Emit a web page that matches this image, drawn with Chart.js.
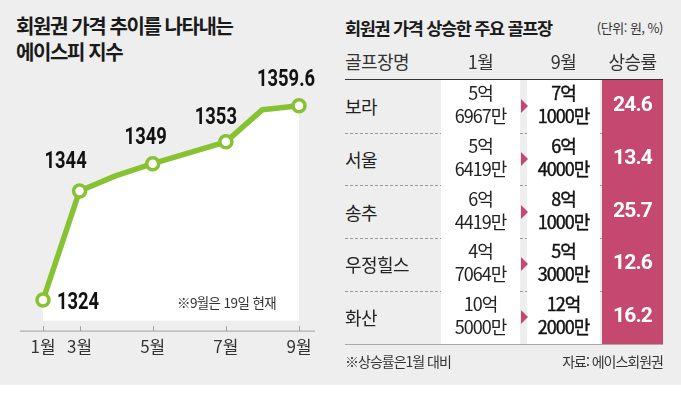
<!DOCTYPE html>
<html lang="ko">
<head>
<meta charset="utf-8">
<script src="https://cdn.jsdelivr.net/npm/chart.js@4.4.1/dist/chart.umd.min.js"></script>
<style>
  html, body { margin: 0; padding: 0; background: #fff; }
  body { width: 681px; height: 414px; position: relative; overflow: hidden;
         font-family: 'Noto Sans CJK KR', sans-serif; color: #222; }
  .panel { position: absolute; left: 0; top: 0; width: 681px; height: 385px; background: #eeeeee; }
  .abs { position: absolute; white-space: nowrap; }
  .title { font-weight: 700; color: #1a1a1a; }
  #chartBox { position: absolute; left: 0; top: 0; width: 340px; height: 385px; }
</style>
</head>
<body>
<div class="panel"></div>

<div class="abs title" style="left:16px; top:13px; font-size:20px; line-height:25.5px; letter-spacing:-1.4px;">회원권 가격 추이를 나타내는<br>에이스피 지수</div>
<div id="chartBox"><canvas id="indexChart" width="340" height="385"></canvas></div>
<div class="abs" style="left:177px; top:294px; font-size:13.5px; line-height:16px; letter-spacing:-0.6px; color:#333;">※9월은 19일 현재</div>

<div class="abs title" style="left:345px; top:18px; font-size:17.5px; line-height:20px; letter-spacing:-1.3px;">회원권 가격 상승한 주요 골프장</div>
<div class="abs" style="right:18px; top:20px; font-size:13px; line-height:16px; letter-spacing:-0.5px; color:#333;">(단위: 원, %)</div>
<div id="table"></div>
<div class="abs" style="left:345px; top:352px; font-size:14px; line-height:18px; letter-spacing:-1px; color:#333;">※상승률은1월 대비</div>
<div class="abs" style="right:18px; top:352px; font-size:14px; line-height:18px; letter-spacing:-1px; color:#333;">자료: 에이스회원권</div>

<script>
// 지수 데이터 (6월은 꺾임 없는 구간)
const months = ['1월', '3월', '4월', '5월', '6월', '7월', '8월', '9월'];
const monthNums = [1, 3, 4, 5, 6, 7, 8, 9];
const tickMonths = [1, 3, 5, 7, 9];
const indexValues = [1324, 1344, 1346.8, 1349, null, 1353, 1358.9, 1359.6];

// 골프장 표 데이터 (가격 단위: 만원)
const headers = ['골프장명', '1월', '9월', '상승률'];
const clubs = ['보라', '서울', '송추', '우정힐스', '화산'];
const priceJan = [56967, 56419, 64419, 47064, 105000];
const priceSep = [71000, 64000, 81000, 53000, 122000];
const riseRate = [24.6, 13.4, 25.7, 12.6, 16.2];

const GREEN = '#86c232';
const PINK = '#c4486f';
const FONT = "'Noto Sans CJK KR', sans-serif";

const isMarked = i => tickMonths.includes(monthNums[i]);

// axis line + upward tick marks
const axisDecor = {
    id: 'axisDecor',
    beforeDatasetsDraw(chart) {
        const { ctx, chartArea, scales } = chart;
        const y = chartArea.bottom + 0.5;
        ctx.save();
        ctx.strokeStyle = '#a0a0a0';
        ctx.lineWidth = 1;
        ctx.beginPath();
        ctx.moveTo(chartArea.left - 23, y);
        ctx.lineTo(chartArea.right + 16, y);
        months.forEach((m, i) => {
            if (!isMarked(i)) return;
            const x = Math.round(scales.x.getPixelForValue(i)) + 0.5;
            ctx.moveTo(x, y);
            ctx.lineTo(x, y - 5);
        });
        ctx.stroke();
        ctx.restore();
    }
};

// value labels next to the markers
const valueLabels = {
    id: 'valueLabels',
    afterDatasetsDraw(chart) {
        const offsets = { 0: [35, 2], 1: [-14, -30], 3: [-7, -26], 5: [-10, -25], 7: [-13, -27] };
        const { ctx } = chart;
        const meta = chart.getDatasetMeta(0);
        ctx.save();
        ctx.fillStyle = '#111';
        ctx.font = "bold 23px Roboto, 'Noto Sans CJK KR', sans-serif";
        ctx.textAlign = 'center';
        ctx.textBaseline = 'middle';
        meta.data.forEach((pt, i) => {
            if (!isMarked(i) || indexValues[i] === null) return;
            const [dx, dy] = offsets[i];
            ctx.save();
            ctx.translate(pt.x + dx, pt.y + dy);
            ctx.scale(0.8, 1);
            ctx.fillText(String(indexValues[i]), 0, 1);
            ctx.restore();
        });
        ctx.restore();
    }
};

new Chart(document.getElementById('indexChart').getContext('2d'), {
    type: 'line',
    data: {
        labels: months,
        datasets: [{
            data: indexValues,
            spanGaps: true,
            borderColor: GREEN,
            borderWidth: 5.5,
            borderJoinStyle: 'round',
            tension: 0,
            fill: { value: 1320.2 },
            backgroundColor: '#ffffff',
            pointRadius: ctx => isMarked(ctx.dataIndex) ? 6 : 0,
            pointBackgroundColor: '#ffffff',
            pointBorderColor: GREEN,
            pointBorderWidth: 3.5,
            clip: false
        }]
    },
    options: {
        responsive: false,
        animation: false,
        layout: { padding: { left: 43, right: 41, top: 90, bottom: 22 } },
        plugins: { legend: { display: false }, tooltip: { enabled: false } },
        scales: {
            x: {
                grid: { display: false, drawTicks: false },
                border: { display: false },
                ticks: {
                    autoSkip: false,
                    maxRotation: 0,
                    padding: 6,
                    color: '#333',
                    font: { family: FONT, size: 17 },
                    callback: (v, i) => isMarked(i) ? months[i] : ''
                }
            },
            y: { display: false, min: 1318.4, max: 1362.5 }
        }
    },
    plugins: [axisDecor, valueLabels]
});

// ---- table ----
const table = document.getElementById('table');
const fmtWon = v => Math.floor(v / 10000) + '억<br>' + (v % 10000) + '만';
const cols = [
    { x: 345, w: 96 },   // 골프장명
    { x: 441, w: 79 },   // 1월
    { x: 527, w: 73 },   // 9월
    { x: 602, w: 61 }    // 상승률
];
const top0 = 80, rowH = 52.7, bottom = top0 + rowH * clubs.length;

function add(html, style) {
    const d = document.createElement('div');
    d.innerHTML = html;
    d.setAttribute('style', style);
    table.appendChild(d);
    return d;
}

// dashed row separators (under the columns)
for (let r = 1; r < clubs.length; r++) {
    add('', `position:absolute; left:345px; width:318px; top:${top0 + rowH * r}px; border-top:1px dashed #9a9a9a;`);
}
// column backgrounds
add('', `position:absolute; left:${cols[1].x}px; width:${cols[1].w}px; top:${top0}px; height:${bottom - top0}px; background:#fff;`);
add('', `position:absolute; left:${cols[2].x}px; width:${cols[2].w}px; top:${top0}px; height:${bottom - top0}px; background:#fff;`);
add('', `position:absolute; left:${cols[3].x}px; width:${cols[3].w}px; top:${top0}px; height:${bottom - top0}px; background:${PINK};`);
// header & bottom lines
add('', `position:absolute; left:345px; width:318px; top:${top0 - 1.5}px; height:1.5px; background:#333;`);
add('', `position:absolute; left:345px; width:318px; top:${bottom}px; height:1px; background:#a8a8a8;`);

// header
headers.forEach((h, c) => {
    add(h, `position:absolute; display:flex; align-items:center; justify-content:${c === 0 ? 'flex-start' : 'center'}; left:${cols[c].x}px; width:${cols[c].w}px; top:51px; height:20px; font-size:18px; letter-spacing:-0.6px; color:#333; white-space:nowrap;`);
});

clubs.forEach((name, r) => {
    const y = top0 + rowH * r;
    add(name, `position:absolute; display:flex; align-items:center; left:${cols[0].x}px; top:${y}px; height:${rowH}px; font-size:18px; letter-spacing:-0.6px; color:#222; white-space:nowrap;`);
    add(fmtWon(priceJan[r]), `position:absolute; display:flex; align-items:center; justify-content:center; left:${cols[1].x}px; width:${cols[1].w}px; top:${y - 2}px; height:${rowH}px; font-size:18px; line-height:23px; letter-spacing:-1px; color:#222; text-align:center; white-space:nowrap;`);
    add(fmtWon(priceSep[r]), `position:absolute; display:flex; align-items:center; justify-content:center; left:${cols[2].x}px; width:${cols[2].w}px; top:${y - 2}px; height:${rowH}px; font-size:18px; line-height:23px; letter-spacing:-1px; color:#111; -webkit-text-stroke:0.4px #111; text-align:center; white-space:nowrap;`);
    add(riseRate[r].toFixed(1), `position:absolute; display:flex; align-items:center; justify-content:center; left:${cols[3].x}px; width:${cols[3].w}px; top:${y - 2}px; height:${rowH}px; font-family:Roboto, sans-serif; font-size:21px; font-weight:700; letter-spacing:-0.8px; color:#fff; white-space:nowrap;`);
    // arrow
    add('', `position:absolute; left:521px; top:${y + rowH / 2 - 7}px; width:0; height:0; border-left:7px solid ${PINK}; border-top:7px solid transparent; border-bottom:7px solid transparent;`);
});
</script>
</body>
</html>
